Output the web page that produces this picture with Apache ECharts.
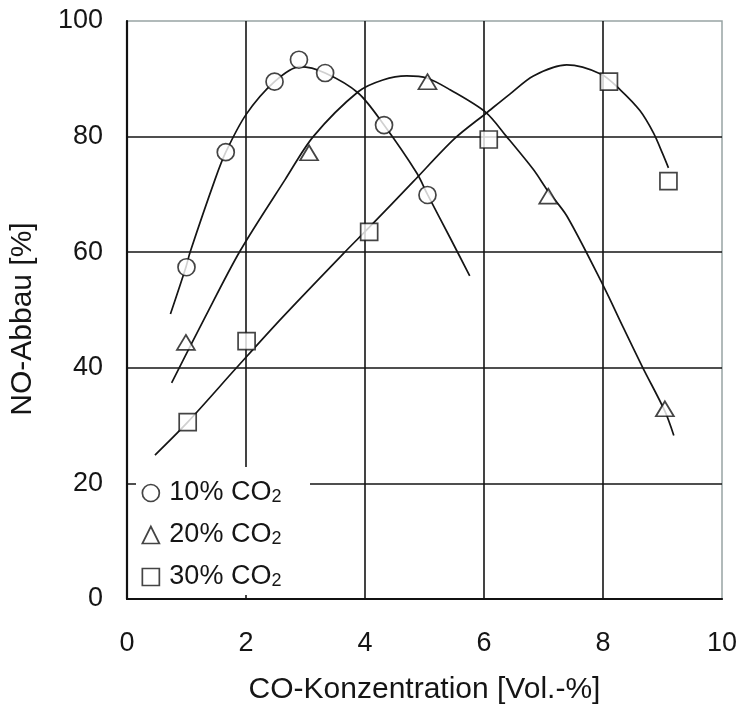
<!DOCTYPE html>
<html><head><meta charset="utf-8">
<script src="https://cdn.jsdelivr.net/npm/echarts@6/dist/echarts.min.js"></script>
<style>html,body{margin:0;padding:0;background:#fff}#c{width:741px;height:710px}</style>
</head><body><div id="c"></div>
<script>
// ---- data ----
const xTicks = [0, 2, 4, 6, 8, 10];
const yTicks = [0, 20, 40, 60, 80, 100];
const xTitle = 'CO-Konzentration [Vol.-%]';
const yTitle = 'NO-Abbau [%]';
const seriesNames = ['10% CO2', '20% CO2', '30% CO2'];

// measured points
const points10 = [[1.0,57.4],[1.66,77.3],[2.48,89.5],[2.89,93.3],[3.33,91.0],[4.32,82.0],[5.05,69.9]];
const points20 = [[0.99,44.4],[3.06,77.2],[5.05,89.5],[7.08,69.7],[9.04,32.9]];
const points30 = [[1.02,30.6],[2.01,44.6],[4.07,63.5],[6.08,79.5],[8.1,89.5],[9.1,72.3]];

// fitted curves
const curve10 = [[0.73,49.3],[0.99,57.4],[1.06,60.0],[1.48,72.6],[1.66,77.3],[2.0,83.8],[2.48,89.5],[2.91,92.1],[3.33,91.0],[3.89,87.5],[4.32,82.0],[4.87,73.7],[5.05,70.0],[5.43,62.5],[5.76,55.9]];
const curve20 = [[0.75,37.4],[1.3,48.5],[1.9,60.2],[2.66,72.6],[3.13,80.0],[3.89,87.8],[4.3,89.8],[4.7,90.5],[5.05,90.1],[5.43,88.1],[6.03,84.2],[6.38,80.0],[6.83,74.3],[7.08,70.5],[7.39,66.3],[8.0,54.3],[8.34,47.0],[8.67,40.0],[9.04,32.5],[9.19,28.3]];
const curve30 = [[0.47,24.9],[1.02,30.6],[1.84,40.0],[2.6,48.6],[3.64,59.8],[4.07,64.3],[4.81,72.2],[5.5,79.6],[6.03,84.0],[6.44,87.4],[6.83,90.5],[7.39,92.4],[7.97,90.8],[8.29,88.1],[8.62,84.5],[8.85,80.6],[9.0,77.1],[9.1,74.6]];

// ---- chart ----
const FONT = "'Liberation Sans', Arial, sans-serif";
const INK = '#151515';
const chart = echarts.init(document.getElementById('c'), null, {renderer: 'canvas'});

const markStyle = {color: '#fff', borderColor: INK, borderWidth: 1.7};
const lineStyle = {color: INK, width: 1.7};

function curveSeries(data) {
  return {type: 'line', data: data, smooth: 0.3, showSymbol: false, symbol: 'none',
    lineStyle: lineStyle, z: 2, silent: true, legendHoverLink: false};
}
function pointSeries(name, data, symbol, size) {
  return {type: 'scatter', name: name, data: data, symbol: symbol, symbolSize: size,
    itemStyle: markStyle, z: 4};
}

chart.setOption({
  animation: false,
  backgroundColor: '#fff',
  grid: {left: 127, top: 21, width: 595, height: 580, show: true,
    borderColor: '#98a4a4', borderWidth: 1.5, backgroundColor: 'transparent'},
  xAxis: {
    type: 'value', min: xTicks[0], max: xTicks[xTicks.length - 1], interval: xTicks[1] - xTicks[0],
    name: xTitle, nameLocation: 'middle', nameGap: 76,
    nameTextStyle: {fontFamily: FONT, fontSize: 30, color: INK},
    axisLine: {show: true, lineStyle: {color: '#111', width: 2.2}},
    axisTick: {show: false},
    axisLabel: {fontFamily: FONT, fontSize: 27, color: INK, margin: 31},
    splitLine: {show: true, showMinLine: false, showMaxLine: false, lineStyle: {color: INK, width: 1.6}}
  },
  yAxis: {
    type: 'value', min: yTicks[0], max: yTicks[yTicks.length - 1], interval: yTicks[1] - yTicks[0],
    name: yTitle, nameLocation: 'middle', nameGap: 89, nameRotate: 90,
    nameTextStyle: {fontFamily: FONT, fontSize: 30, color: INK, padding: [0, 18, 0, 0]},
    axisLine: {show: true, lineStyle: {color: '#111', width: 2.2}},
    axisTick: {show: false},
    axisLabel: {fontFamily: FONT, fontSize: 27, color: INK, margin: 24},
    splitLine: {show: true, showMinLine: false, showMaxLine: false, lineStyle: {color: INK, width: 1.6}}
  },
  graphic: [{
    type: 'rect', shape: {x: 136, y: 467, width: 174, height: 128},
    style: {fill: '#fff'}, z: 1, silent: true
  }],
  legend: {
    orient: 'vertical', left: 141.5, top: 479.5, padding: 0, itemGap: 15,
    itemWidth: 17, itemHeight: 17, selectedMode: false,
    itemStyle: {color: '#fff', borderColor: INK, borderWidth: 1.7},
    data: [
      {name: seriesNames[0], icon: 'circle'},
      {name: seriesNames[1], icon: 'triangle'},
      {name: seriesNames[2], icon: 'rect'}
    ],
    formatter: function (n) { return '{a|' + n.slice(0, -1) + '}{s|' + n.slice(-1) + '}'; },
    textStyle: {
      color: INK, fontFamily: FONT, fontSize: 27,
      rich: {
        a: {fontFamily: FONT, fontSize: 27, color: INK, lineHeight: 27, padding: [0, 0, 0, 5]},
        s: {fontFamily: FONT, fontSize: 18, color: INK, lineHeight: 4, verticalAlign: 'bottom'}
      }
    }
  },
  series: [
    curveSeries(curve10), curveSeries(curve20), curveSeries(curve30),
    pointSeries(seriesNames[0], points10, 'circle', 17),
    pointSeries(seriesNames[1], points20, 'triangle', [18, 15]),
    pointSeries(seriesNames[2], points30, 'rect', 17)
  ]
});
</script>
</body></html>
